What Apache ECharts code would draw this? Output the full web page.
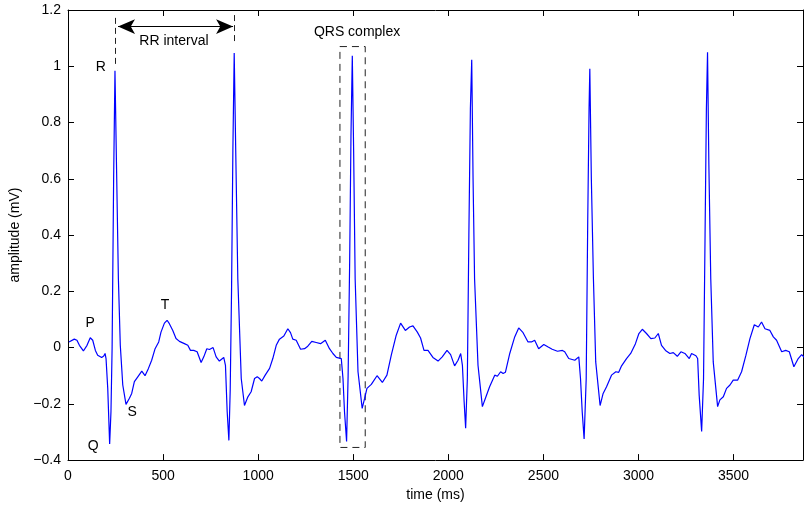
<!DOCTYPE html>
<html>
<head>
<meta charset="utf-8">
<script src="https://cdn.jsdelivr.net/npm/echarts@6/dist/echarts.min.js"></script>
<style>
html,body{margin:0;padding:0;background:#fff;}
#chart{width:804px;height:507px;}
</style>
</head>
<body>
<div id="chart"></div>
<script>
// ECG samples
var timeMs = [5,33,47,60,81,100,117,130,144,156,177,188,195,200,209,219,226,232,240,247,255,265,275,288,305,323,335,349,367,388,405,423,440,458,477,489,507,521,533,551,568,586,612,630,644,661,679,700,714,730,744,763,779,796,805,819,828,837,846,853,860,867,874,882,893,911,928,946,963,981,995,1007,1019,1037,1060,1077,1095,1112,1135,1156,1170,1182,1200,1223,1244,1261,1282,1305,1328,1353,1375,1393,1411,1437,1446,1454,1465,1473,1481,1488,1495,1502,1510,1525,1547,1560,1572,1595,1625,1653,1677,1700,1726,1749,1774,1796,1814,1837,1854,1872,1893,1919,1946,1968,1993,2012,2033,2051,2065,2074,2083,2091,2100,2108,2116,2123,2130,2138,2156,2179,2195,2217,2244,2258,2275,2288,2300,2323,2349,2370,2393,2419,2437,2454,2475,2502,2525,2546,2574,2600,2612,2633,2665,2686,2695,2704,2714,2725,2733,2740,2744,2752,2763,2775,2798,2814,2832,2858,2881,2896,2911,2937,2959,2984,3002,3020,3042,3065,3086,3104,3121,3142,3165,3183,3204,3223,3244,3267,3279,3302,3311,3319,3332,3342,3350,3357,3363,3370,3380,3393,3416,3428,3446,3463,3481,3498,3521,3542,3565,3586,3609,3630,3647,3665,3691,3709,3726,3753,3774,3793,3817,3840,3858,3878];
var amplitude = [0.02,0.03,0.026,0.008,-0.012,0.008,0.035,0.026,-0.01,-0.027,-0.035,-0.03,-0.021,-0.039,-0.145,-0.343,-0.227,0,0.6,0.984,0.65,0.244,0.008,-0.133,-0.202,-0.18,-0.163,-0.121,-0.104,-0.084,-0.1,-0.074,-0.045,-0.004,0.02,0.055,0.087,0.097,0.085,0.061,0.032,0.022,0.014,0.008,-0.01,-0.01,-0.015,-0.053,-0.033,-0.004,-0.007,0,-0.033,-0.048,-0.045,-0.035,-0.063,-0.227,-0.33,-0.15,0.2,0.7,1.047,0.7,0.244,-0.11,-0.206,-0.175,-0.157,-0.11,-0.104,-0.11,-0.119,-0.098,-0.074,-0.039,0.008,0.03,0.041,0.067,0.053,0.03,0.026,-0.006,-0.004,0.005,0.022,0.018,0.014,0.026,-0.004,-0.021,-0.035,-0.039,-0.11,-0.228,-0.334,-0.1,0.3,0.75,1.037,0.7,0.244,-0.086,-0.216,-0.18,-0.145,-0.131,-0.1,-0.124,-0.098,-0.027,0.044,0.087,0.061,0.073,0.077,0.055,0.034,-0.01,-0.01,-0.035,-0.048,-0.033,-0.01,-0.025,-0.065,-0.045,-0.021,-0.063,-0.192,-0.287,-0.11,0.4,0.85,1.023,0.6,0.244,-0.063,-0.21,-0.18,-0.139,-0.098,-0.102,-0.086,-0.092,-0.088,-0.021,0.038,0.07,0.053,0.02,0.02,0.026,-0.004,0.011,0.002,-0.006,-0.013,-0.01,-0.015,-0.039,-0.045,-0.033,-0.11,-0.228,-0.325,-0.11,0.45,0.85,0.991,0.6,0.244,-0.051,-0.206,-0.163,-0.139,-0.098,-0.086,-0.088,-0.065,-0.039,-0.021,0.014,0.05,0.065,0.05,0.032,0.034,0.05,0.008,-0.01,-0.021,-0.018,-0.031,-0.015,-0.021,-0.039,-0.021,-0.029,-0.039,-0.169,-0.298,-0.11,0.4,0.85,1.05,0.65,0.244,-0.051,-0.21,-0.186,-0.175,-0.145,-0.133,-0.116,-0.116,-0.086,-0.027,0.032,0.081,0.073,0.091,0.067,0.061,0.038,0.026,-0.015,-0.01,-0.015,-0.068,-0.039,-0.025,-0.039];

var xTicks = [0,500,1000,1500,2000,2500,3000,3500];
var yTicks = [-0.4,-0.2,0,0.2,0.4,0.6,0.8,1,1.2];

// wave labels
var waveNames = ['P','Q','R','S','T'];
var waveT = [116,132,173,337,510];
var waveV = [0.088,-0.35,0.998,-0.23,0.152];

// RR interval annotation (R1 to R2)
var rrStart = 247, rrEnd = 874;
var rrArrowV = 1.141;
// QRS box
var qrsT = [1430,1563];
var qrsV = [-0.355,1.07];

var FONT = '"Liberation Sans", Arial, Helvetica, sans-serif';
var chart = echarts.init(document.getElementById('chart'));

var pts = timeMs.map(function(t,i){return [t, amplitude[i]];});
var waveData = waveNames.map(function(n,i){return {name:n, value:[waveT[i], waveV[i]]};});

function minusFmt(v){
  var s = String(Math.round(v*10)/10);
  return s.replace('-', '\u2212');
}

var axisCommon = {
  axisLine:{show:true, onZero:false, lineStyle:{color:'#000', width:1}},
  axisTick:{show:true, inside:true, length:6, lineStyle:{color:'#000'}},
  splitLine:{show:false}
};

var labelStyle = {show:true, position:'inside', formatter:'{b}', color:'#000', opacity:1, fontSize:14, fontFamily:FONT};

chart.setOption({
  animation:false,
  backgroundColor:'#fff',
  textStyle:{fontFamily:FONT},
  grid:{left:67, right:1, top:10, bottom:45, containLabel:false},
  xAxis:[
    Object.assign({type:'value', min:0, max:3865, interval:500, position:'bottom',
      name:'time (ms)', nameLocation:'middle', nameGap:25,
      nameTextStyle:{color:'#000', fontSize:14, fontFamily:FONT},
      axisLabel:{color:'#000', fontSize:14, fontFamily:FONT, margin:9, showMaxLabel:false,
        formatter:function(v){return xTicks.indexOf(v)>=0 ? String(v) : '';}}
    }, axisCommon),
    Object.assign({type:'value', min:0, max:3865, interval:500, position:'top',
      axisLabel:{show:false}}, axisCommon)
  ],
  yAxis:[
    Object.assign({type:'value', min:-0.4, max:1.2, interval:0.2, position:'left',
      name:'amplitude (mV)', nameLocation:'middle', nameGap:46,
      nameTextStyle:{color:'#000', fontSize:14, fontFamily:FONT},
      axisLabel:{color:'#000', fontSize:14, fontFamily:FONT, margin:7, formatter:minusFmt}
    }, axisCommon),
    Object.assign({type:'value', min:-0.4, max:1.2, interval:0.2, position:'right',
      axisLabel:{show:false}}, axisCommon)
  ],
  series:[
    {
      type:'line', data:pts, xAxisIndex:0, yAxisIndex:0,
      showSymbol:false, symbol:'none', clip:true,
      lineStyle:{color:'#0000ff', width:1.2},
      markLine:{
        silent:true, symbol:['none','none'], label:{show:false},
        lineStyle:{color:'#222', type:[6,4], width:1},
        data:[
          [{coord:[rrStart, 1.172]},{coord:[rrStart, 1.0]}],
          [{coord:[rrEnd, 1.182]},{coord:[rrEnd, 1.076]}],
          [{coord:[rrStart+16, rrArrowV], symbol:'arrow', symbolSize:[11,17], lineStyle:{type:'solid', width:1.2, color:'#000'}},
           {coord:[rrEnd-6, rrArrowV], symbol:'arrow', symbolSize:[11,17]}]
        ]
      },
      markArea:{
        silent:true,
        itemStyle:{color:'rgba(0,0,0,0)', borderColor:'#222', borderWidth:1, borderType:[7,5]},
        data:[[{coord:[qrsT[0], qrsV[1]]},{coord:[qrsT[1], qrsV[0]]}]]
      }
    },
    {
      type:'scatter', data:waveData, symbolSize:1,
      itemStyle:{color:'#fff', opacity:0},
      label:labelStyle
    },
    {
      type:'scatter', symbolSize:1, itemStyle:{color:'#fff', opacity:0},
      data:[{name:'RR interval', value:[557,1.088]},{name:'QRS complex', value:[1520,1.122]}],
      label:labelStyle
    }
  ]
});
</script>
</body>
</html>
